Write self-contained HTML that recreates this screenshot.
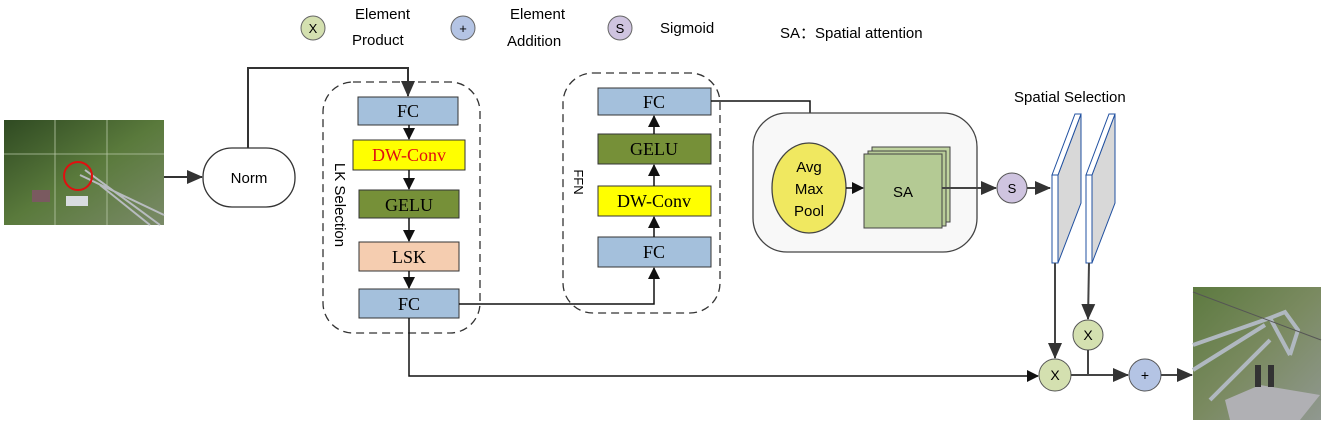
<!DOCTYPE html>
<html><head><meta charset="utf-8"><style>
html,body{margin:0;padding:0;background:#fff;}
svg{display:block;}
.s{font-family:"Liberation Sans",sans-serif;}
.r{font-family:"Liberation Serif",serif;}
</style></head><body>
<svg width="1325" height="426" viewBox="0 0 1325 426" xmlns="http://www.w3.org/2000/svg">
<defs>
<marker id="a" markerWidth="12" markerHeight="12" refX="11" refY="6" orient="auto" markerUnits="userSpaceOnUse"><path d="M0,0 L12,6 L0,12 z" fill="#111"/></marker>
<marker id="b" markerWidth="16" markerHeight="14" refX="15" refY="7" orient="auto" markerUnits="userSpaceOnUse"><path d="M0,0 L16,7 L0,14 z" fill="#333"/></marker>
<linearGradient id="g1" x1="0" y1="0" x2="1" y2="1"><stop offset="0" stop-color="#2f4a22"/><stop offset=".5" stop-color="#5a7a3c"/><stop offset="1" stop-color="#7a8a68"/></linearGradient>
<linearGradient id="g2" x1="0" y1="0" x2="1" y2="1"><stop offset="0" stop-color="#5d7a40"/><stop offset=".5" stop-color="#7a8a60"/><stop offset="1" stop-color="#909890"/></linearGradient>
</defs>

<!-- legend -->
<circle cx="313" cy="28" r="12" fill="#d4e0b0" stroke="#666"/><text x="313" y="33" class="s" font-size="13" text-anchor="middle">X</text>
<text x="355" y="19" class="s" font-size="15">Element</text><text x="352" y="45" class="s" font-size="15">Product</text>
<circle cx="463" cy="28" r="12" fill="#b4c4e4" stroke="#666"/><text x="463" y="33" class="s" font-size="13" text-anchor="middle">+</text>
<text x="510" y="19" class="s" font-size="15">Element</text><text x="507" y="46" class="s" font-size="15">Addition</text>
<circle cx="620" cy="28" r="12" fill="#cfc4e0" stroke="#666"/><text x="620" y="33" class="s" font-size="13" text-anchor="middle">S</text>
<text x="660" y="33" class="s" font-size="15">Sigmoid</text>
<text x="780" y="38" class="s" font-size="15">SA：Spatial attention</text>

<!-- input image -->
<rect x="4" y="120" width="160" height="105" fill="url(#g1)"/>
<line x1="4" y1="154" x2="164" y2="154" stroke="#b8c8a8" stroke-width=".8"/>
<line x1="55" y1="120" x2="55" y2="225" stroke="#b8c8a8" stroke-width=".8"/>
<line x1="107" y1="120" x2="107" y2="225" stroke="#b8c8a8" stroke-width=".8"/>
<path d="M80,175 L164,215 M85,170 L160,225 M100,185 L150,225" stroke="#b8bcc0" stroke-width="2" fill="none"/>
<rect x="32" y="190" width="18" height="12" fill="#7a5a60"/><rect x="66" y="196" width="22" height="10" fill="#d8dce0"/>
<circle cx="78" cy="176" r="14" fill="none" stroke="#e01010" stroke-width="2"/>
<line x1="164" y1="177" x2="202" y2="177" stroke="#333" stroke-width="2" marker-end="url(#b)"/>

<!-- Norm -->
<rect x="203" y="148" width="92" height="59" rx="29" fill="#fff" stroke="#333" stroke-width="1.3"/>
<text x="249" y="183" class="s" font-size="15" text-anchor="middle">Norm</text>
<polyline points="248,148 248,68 408,68 408,96" fill="none" stroke="#333" stroke-width="2" marker-end="url(#b)"/>

<!-- LK selection -->
<rect x="323" y="82" width="157" height="251" rx="30" fill="none" stroke="#333" stroke-width="1.3" stroke-dasharray="8,5"/>
<text transform="translate(335,205) rotate(90)" class="s" font-size="15" text-anchor="middle">LK Selection</text>
<rect x="358" y="97" width="100" height="28" fill="#a4c0dc" stroke="#333"/><text x="408" y="117" class="r" font-size="18" text-anchor="middle">FC</text>
<rect x="353" y="140" width="112" height="30" fill="#ffff00" stroke="#333"/><text x="409" y="161" class="r" font-size="18" text-anchor="middle" fill="#e01010">DW-Conv</text>
<rect x="359" y="190" width="100" height="28" fill="#769038" stroke="#333"/><text x="409" y="211" class="r" font-size="18" text-anchor="middle">GELU</text>
<rect x="359" y="242" width="100" height="29" fill="#f5cdb0" stroke="#333"/><text x="409" y="263" class="r" font-size="18" text-anchor="middle">LSK</text>
<rect x="359" y="289" width="100" height="29" fill="#a4c0dc" stroke="#333"/><text x="409" y="310" class="r" font-size="18" text-anchor="middle">FC</text>
<line x1="409" y1="125" x2="409" y2="139" stroke="#111" stroke-width="1.5" marker-end="url(#a)"/>
<line x1="409" y1="170" x2="409" y2="189" stroke="#111" stroke-width="1.5" marker-end="url(#a)"/>
<line x1="409" y1="218" x2="409" y2="241" stroke="#111" stroke-width="1.5" marker-end="url(#a)"/>
<line x1="409" y1="271" x2="409" y2="288" stroke="#111" stroke-width="1.5" marker-end="url(#a)"/>

<!-- FFN -->
<rect x="563" y="73" width="157" height="240" rx="30" fill="none" stroke="#333" stroke-width="1.3" stroke-dasharray="8,5"/>
<text transform="translate(574,182) rotate(90)" class="s" font-size="13" text-anchor="middle">FFN</text>
<rect x="598" y="88" width="113" height="27" fill="#a4c0dc" stroke="#333"/><text x="654" y="108" class="r" font-size="18" text-anchor="middle">FC</text>
<rect x="598" y="134" width="113" height="30" fill="#769038" stroke="#333"/><text x="654" y="155" class="r" font-size="18" text-anchor="middle">GELU</text>
<rect x="598" y="186" width="113" height="30" fill="#ffff00" stroke="#333"/><text x="654" y="207" class="r" font-size="18" text-anchor="middle">DW-Conv</text>
<rect x="598" y="237" width="113" height="30" fill="#a4c0dc" stroke="#333"/><text x="654" y="258" class="r" font-size="18" text-anchor="middle">FC</text>
<line x1="654" y1="237" x2="654" y2="217" stroke="#111" stroke-width="1.5" marker-end="url(#a)"/>
<line x1="654" y1="186" x2="654" y2="165" stroke="#111" stroke-width="1.5" marker-end="url(#a)"/>
<line x1="654" y1="134" x2="654" y2="116" stroke="#111" stroke-width="1.5" marker-end="url(#a)"/>
<polyline points="459,304 654,304 654,268" fill="none" stroke="#111" stroke-width="1.5" marker-end="url(#a)"/>
<polyline points="711,101 810,101 810,142" fill="none" stroke="#111" stroke-width="1.5" marker-end="url(#a)"/>

<!-- SA block -->
<rect x="753" y="113" width="224" height="139" rx="34" fill="#f8f8f8" stroke="#444" stroke-width="1.3"/>
<ellipse cx="809" cy="188" rx="37" ry="45" fill="#f0e860" stroke="#444" stroke-width="1.3"/>
<text x="809" y="172" class="s" font-size="15" text-anchor="middle">Avg</text>
<text x="809" y="194" class="s" font-size="15" text-anchor="middle">Max</text>
<text x="809" y="216" class="s" font-size="15" text-anchor="middle">Pool</text>
<rect x="872" y="147" width="78" height="75" fill="#c0d4a0" stroke="#444"/>
<rect x="868" y="151" width="78" height="75" fill="#b8cc98" stroke="#444"/>
<rect x="864" y="154" width="78" height="74" fill="#b4ca94" stroke="#444"/>
<text x="903" y="197" class="s" font-size="15" text-anchor="middle">SA</text>
<line x1="846" y1="188" x2="863" y2="188" stroke="#111" stroke-width="1.5" marker-end="url(#a)"/>
<line x1="942" y1="188" x2="996" y2="188" stroke="#444" stroke-width="2" marker-end="url(#b)"/>
<circle cx="1012" cy="188" r="15" fill="#cfc4e0" stroke="#555"/><text x="1012" y="193" class="s" font-size="13" text-anchor="middle">S</text>
<line x1="1027" y1="188" x2="1050" y2="188" stroke="#444" stroke-width="2" marker-end="url(#b)"/>

<!-- Spatial selection panels -->
<text x="1014" y="102" class="s" font-size="15">Spatial Selection</text>
<polygon points="1058,175 1081,114 1081,203 1058,263" fill="#d8d8d8" stroke="#2050a0"/>
<polygon points="1052,175 1058,175 1058,263 1052,263" fill="#fff" stroke="#2050a0"/>
<polygon points="1052,175 1075,114 1081,114 1058,175" fill="#fff" stroke="#2050a0"/>
<polygon points="1092,175 1115,114 1115,203 1092,263" fill="#d8d8d8" stroke="#2050a0"/>
<polygon points="1086,175 1092,175 1092,263 1086,263" fill="#fff" stroke="#2050a0"/>
<polygon points="1086,175 1109,114 1115,114 1092,175" fill="#fff" stroke="#2050a0"/>

<!-- bottom ops -->
<line x1="1055" y1="263" x2="1055" y2="358" stroke="#444" stroke-width="2" marker-end="url(#b)"/>
<line x1="1089" y1="263" x2="1088" y2="319" stroke="#444" stroke-width="2" marker-end="url(#b)"/>
<polyline points="409,318 409,376 1038,376" fill="none" stroke="#111" stroke-width="1.5" marker-end="url(#a)"/>
<circle cx="1088" cy="335" r="15" fill="#d4e0b0" stroke="#555"/><text x="1088" y="340" class="s" font-size="14" text-anchor="middle">X</text>
<circle cx="1055" cy="375" r="16" fill="#d4e0b0" stroke="#555"/><text x="1055" y="380" class="s" font-size="14" text-anchor="middle">X</text>
<line x1="1088" y1="350" x2="1088" y2="375" stroke="#444" stroke-width="2"/>
<line x1="1071" y1="375" x2="1128" y2="375" stroke="#444" stroke-width="2" marker-end="url(#b)"/>
<circle cx="1145" cy="375" r="16" fill="#b4c4e4" stroke="#555"/><text x="1145" y="380" class="s" font-size="14" text-anchor="middle">+</text>
<line x1="1161" y1="375" x2="1192" y2="375" stroke="#444" stroke-width="2" marker-end="url(#b)"/>

<!-- output image -->
<rect x="1193" y="287" width="128" height="133" fill="url(#g2)"/>
<path d="M1193,345 L1270,318 L1285,312 L1298,330 L1290,355 M1193,370 L1265,325 M1210,400 L1270,340 M1270,318 L1290,355" stroke="#b0b8c0" stroke-width="4" fill="none"/>
<path d="M1193,292 L1321,340" stroke="#555" stroke-width="1"/>
<polygon points="1225,400 1260,385 1320,395 1300,420 1230,420" fill="#b0b0b4"/>
<rect x="1255" y="365" width="6" height="22" fill="#333"/><rect x="1268" y="365" width="6" height="22" fill="#333"/>
</svg>
</body></html>
